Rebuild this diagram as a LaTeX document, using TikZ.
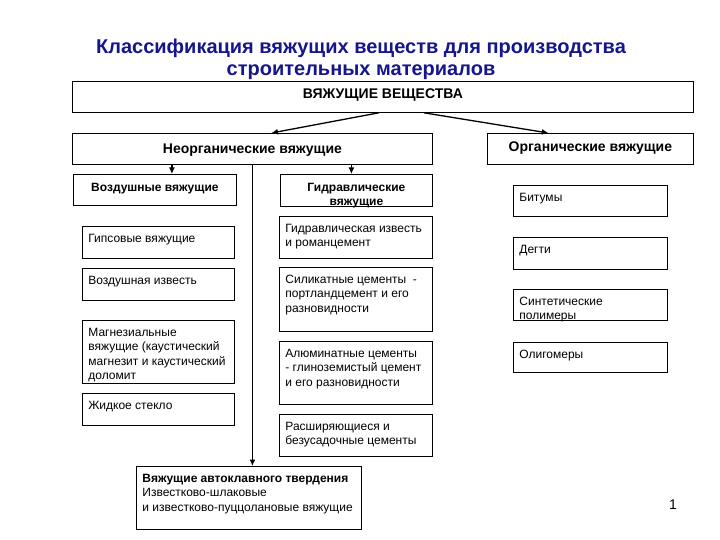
\documentclass[tikz,border=0pt]{standalone}
\usepackage{fontspec}
\setmainfont{Liberation Sans}
\usepackage{tikz}
\usetikzlibrary{arrows.meta, positioning, calc}

\definecolor{titleblue}{RGB}{22,22,140}

% box text: top aligned, w and h are the full box size in pt
\newcommand{\cell}[3]{\parbox[c][\dimexpr#2pt-11pt][t]{\dimexpr#1pt-12pt}{\raggedright\strut #3}}

\begin{document}
\begin{tikzpicture}[x=1pt, y=-1pt,
    item/.style={draw, line width=0.8pt, anchor=north west, inner xsep=6pt, inner ysep=5.5pt,
        font=\fontsize{12}{14.6}\selectfont},
    head/.style={item, font=\fontsize{12}{14.6}\selectfont\bfseries},
    bighead/.style={item, font=\fontsize{14}{17}\selectfont\bfseries},
    link/.style={line width=1.3pt, -{Latex[length=6.5pt, width=6pt]}}]
    \useasboundingbox (0,0) rectangle (720,540);

    % Title
    \node[font=\fontsize{20}{22}\selectfont\bfseries, text=titleblue, align=center] (title) at (361,59)
        {Классификация вяжущих веществ для производства\\строительных материалов};

    % Top level
    \node[bighead] (binders) at (72,81) {\cell{621}{31}{\centering ВЯЖУЩИЕ ВЕЩЕСТВА}};
    \node[bighead] (inorg) at (72,133) {\cell{360}{31}{\centering\rule{0pt}{15pt}Неорганические вяжущие}};
    \node[bighead] (org) at (487,133) {\cell{206}{31}{\centering\rule{0pt}{13pt}Органические вяжущие}};

    % Inorganic: air and hydraulic
    \node[head] (air) at (73,174) {\cell{163}{31}{\centering\rule{0pt}{11.5pt}Воздушные вяжущие}};
    \node[head] (hydr) at (280,174) {\cell{152}{32}{\centering\rule{0pt}{11.5pt}Гидравлические\\вяжущие}};

    % Air binders column
    \node[item] (gypsum) at (82,226) {\cell{152}{32}{Гипсовые вяжущие}};
    \node[item] (airlime) at (82,268) {\cell{152}{32}{Воздушная известь}};
    \node[item] (magnes) at (82,320) {\cell{152}{63}{Магнезиальные\\вяжущие (каустический\\магнезит и каустический\\доломит}};
    \node[item] (glass) at (82,393) {\cell{152}{32}{Жидкое стекло}};

    % Hydraulic binders column
    \node[item] (hlime) at (279,216) {\cell{153}{42}{Гидравлическая известь\\и романцемент}};
    \node[item] (silic) at (279,267) {\cell{153}{64}{Силикатные цементы \ -\\портландцемент и его\\разновидности}};
    \node[item] (alum) at (279,341) {\cell{153}{63}{Алюминатные цементы\\- глиноземистый цемент\\и его разновидности}};
    \node[item] (expand) at (279,414) {\cell{153}{42}{Расширяющиеся и\\безусадочные цементы}};

    % Autoclave
    \node[item] (autoc) at (136,466) {\cell{225}{63}{\textbf{Вяжущие автоклавного твердения}\\Известково-шлаковые\\и известково-пуццолановые вяжущие}};

    % Organic column
    \node[item] (bitumen) at (513,185) {\cell{154}{31}{Битумы}};
    \node[item] (tar) at (513,237) {\cell{154}{32}{Дегти}};
    \node[item] (synth) at (513,289) {\cell{154}{31}{Синтетические\\полимеры}};
    \node[item] (oligo) at (513,342) {\cell{154}{30}{Олигомеры}};

    % Arrows
    \draw[link] ([xshift=-4pt]binders.south) -- ([xshift=19pt]inorg.north);
    \draw[link] ([xshift=41pt]binders.south) -- ([xshift=-42pt]org.north);
    \draw[link] ([xshift=17pt]air.north |- inorg.south) -- ([xshift=17pt]air.north);
    \draw[link] ([xshift=-5pt]hydr.north |- inorg.south) -- ([xshift=-5pt]hydr.north);
    \draw[link, line width=1.8pt] (inorg.south) -- (inorg.south |- autoc.north);

    % Page number
    \node[font=\fontsize{14}{16}\selectfont] (pagenum) at (673,505) {1};
\end{tikzpicture}
\end{document}
